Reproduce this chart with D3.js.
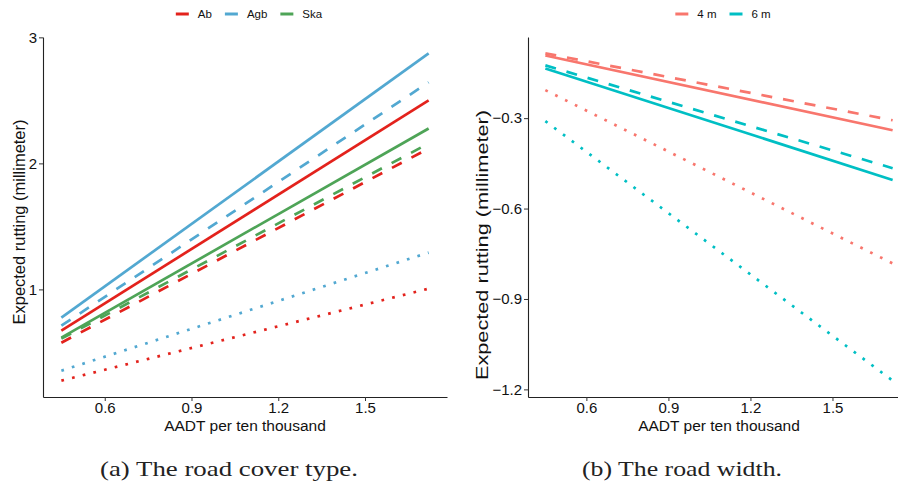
<!DOCTYPE html>
<html>
<head>
<meta charset="utf-8">
<script src="https://cdn.jsdelivr.net/npm/d3@7"></script>
<style>
  body { margin: 0; background: #fff; }
  svg { display: block; }
</style>
</head>
<body>
<svg id="chart" width="898" height="487" font-family="Liberation Sans, Arial, sans-serif"></svg>
<script>
// AADT range covered by every fitted line
const aadt = [0.45, 1.72]

// panel (a): road cover type, [value at start, value at end]
const coverTypes = ['Ab', 'Agb', 'Ska']
const coverColors = ['#E3221C', '#52A8D1', '#4EA457']
const coverSolid = [[0.673, 2.50], [0.776, 2.873], [0.617, 2.277]]
const coverDashed = [[0.577, 2.118], [0.712, 2.643], [0.609, 2.158]]
const coverDotted = [[0.276, 1.006], [0.355, 1.292], null]   // no dotted line for Ska
const coverYTicks = [1, 2, 3]

// panel (b): road width
const widths = ['4 m', '6 m']
const widthColors = ['#F8766D', '#00BFC4']
const widthSolid = [[-0.092, -0.340], [-0.135, -0.505]]
const widthDashed = [[-0.085, -0.307], [-0.125, -0.466]]
const widthDotted = [[-0.207, -0.782], [-0.310, -1.171]]
const widthYTicks = [-1.2, -0.9, -0.6, -0.3]

const xTicks = [0.6, 0.9, 1.2, 1.5]

const dashes = { solid: null, dashed: '11,11', dotted: '2.7,8.3' }
const sans = 'Liberation Sans, Arial, sans-serif'

const svg = d3.select('#chart')

// builds the line list for a panel from the three linetype arrays
function buildLines(names, colors, solid, dashed, dotted) {
  const lines = []
  names.forEach((name, i) => {
    [['solid', solid], ['dashed', dashed], ['dotted', dotted]].forEach(([type, arr]) => {
      if (!arr[i]) return
      lines.push({
        name, color: colors[i], type,
        points: aadt.map((x, j) => ({x, y: arr[i][j]}))
      })
    })
  })
  return lines
}

function drawPanel({left, right, top, bottom, lines, yTicks, yFormat, names, colors,
                    titleX, titleY, titleLen, caption, captionPos}) {
  const g = svg.append('g')

  // ggplot-like 5% expansion of the data extent
  const expand = ext => {
    const pad = (ext[1] - ext[0]) * 0.05
    return [ext[0] - pad, ext[1] + pad]
  }
  const allY = lines.flatMap(l => l.points.map(p => p.y))

  const x = d3.scaleLinear().domain(expand(aadt)).range([left, right])
  const y = d3.scaleLinear().domain(expand(d3.extent(allY))).range([bottom, top])

  const xAxis = g.append('g')
    .attr('transform', `translate(0, ${bottom})`)
    .call(d3.axisBottom(x).tickValues(xTicks).tickFormat(d3.format('.1f'))
      .tickSize(4).tickSizeOuter(0).tickPadding(1))
  const yAxis = g.append('g')
    .attr('transform', `translate(${left}, 0)`)
    .call(d3.axisLeft(y).tickValues(yTicks).tickFormat(d3.format(yFormat))
      .tickSize(4).tickSizeOuter(0).tickPadding(2))

  ;[xAxis, yAxis].forEach(ax => {
    ax.select('.domain').attr('stroke', '#222').attr('stroke-width', 1.1)
    ax.selectAll('line').attr('stroke', '#333')
    ax.selectAll('text')
      .attr('font-family', sans)
      .attr('font-size', 15)
      .attr('fill', '#111')
  })

  // fitted lines
  const line = d3.line().x(d => x(d.x)).y(d => y(d.y))
  g.append('g')
    .selectAll('path')
    .data(lines)
    .join('path')
    .attr('d', d => line(d.points))
    .attr('fill', 'none')
    .attr('stroke', d => d.color)
    .attr('stroke-width', 2.7)
    .attr('stroke-dasharray', d => dashes[d.type])

  // axis titles
  g.append('text')
    .attr('x', (left + right) / 2)
    .attr('y', bottom + 34)
    .attr('text-anchor', 'middle')
    .attr('font-size', 15.5)
    .attr('fill', '#111')
    .text('AADT per ten thousand')

  g.append('text')
    .attr('transform', `translate(${titleX}, ${titleY}) rotate(-90)`)
    .attr('x', -titleLen / 2)
    .attr('font-size', 16)
    .attr('textLength', titleLen)
    .attr('lengthAdjust', 'spacingAndGlyphs')
    .attr('fill', '#111')
    .text('Expected rutting (millimeter)')

  // legend on top, centred over the panel
  const legend = g.append('g')
  let cursor = 0
  names.forEach((name, i) => {
    const item = legend.append('g').attr('transform', `translate(${cursor}, 0)`)
    item.append('line')
      .attr('x1', 0).attr('x2', 13)
      .attr('stroke', colors[i]).attr('stroke-width', 3)
    const t = item.append('text')
      .attr('x', 22).attr('dy', '0.35em')
      .attr('font-size', 11.5)
      .attr('fill', '#111')
      .text(name)
    cursor += 22 + t.node().getComputedTextLength() + 13
  })
  const legendWidth = cursor - 13
  legend.attr('transform', `translate(${(left + right) / 2 - legendWidth / 2 + 4}, 14)`)

  // sub-figure caption
  svg.append('text')
    .attr('x', captionPos.x)
    .attr('y', 476)
    .attr('font-family', 'Liberation Serif, Times New Roman, serif')
    .attr('font-size', 21)
    .attr('textLength', captionPos.w)
    .attr('lengthAdjust', 'spacingAndGlyphs')
    .attr('fill', '#222')
    .text(caption)
}

drawPanel({
  left: 43, right: 447, top: 37, bottom: 397,
  lines: buildLines(coverTypes, coverColors, coverSolid, coverDashed, coverDotted),
  yTicks: coverYTicks, yFormat: 'd',
  names: coverTypes, colors: coverColors,
  titleX: 25, titleY: 222, titleLen: 205,
  caption: '(a) The road cover type.', captionPos: {x: 100, w: 258}
})

drawPanel({
  left: 528, right: 910, top: 37, bottom: 397,
  lines: buildLines(widths, widthColors, widthSolid, widthDashed, widthDotted),
  yTicks: widthYTicks, yFormat: '.1f',
  names: widths, colors: widthColors,
  titleX: 488, titleY: 245, titleLen: 270,
  caption: '(b) The road width.', captionPos: {x: 582, w: 200}
})
</script>
</body>
</html>
